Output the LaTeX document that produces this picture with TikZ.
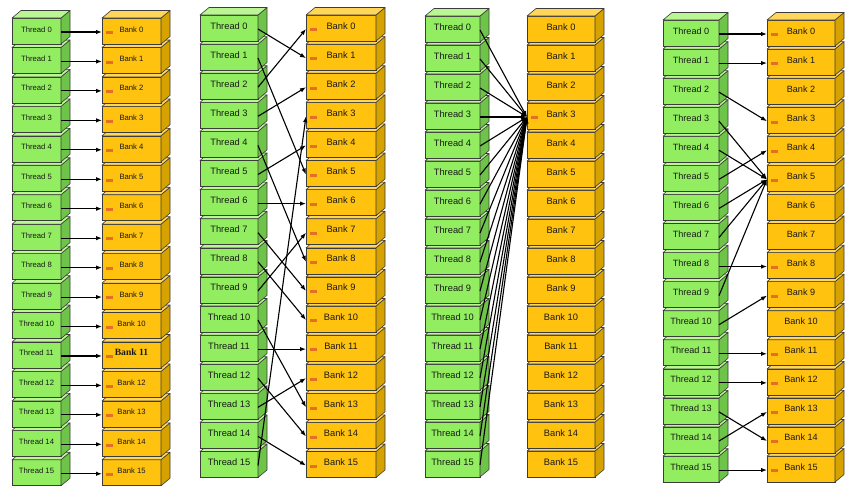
\documentclass[tikz,border=0pt]{standalone}
\usepackage{fontspec}
\setmainfont{Liberation Sans}
\newfontfamily\bankserif{Liberation Serif}
\usetikzlibrary{arrows.meta}

\definecolor{threadfront}{RGB}{146,238,96}
\definecolor{threadtop}{RGB}{186,246,146}
\definecolor{threadside}{RGB}{110,196,72}
\definecolor{bankfront}{RGB}{255,194,14}
\definecolor{banktop}{RGB}{255,214,90}
\definecolor{bankside}{RGB}{214,162,0}
\definecolor{boxline}{RGB}{60,60,60}
\definecolor{markorange}{RGB}{230,110,36}

\tikzset{
  box/.style={draw=boxline, line width=0.6pt, inner sep=0pt, outer sep=0pt,
    minimum height=26pt, text height=6pt, text depth=4pt, text=black!90},
  threadbox/.style={box, fill=threadfront},
  bankbox/.style={box, fill=bankfront},
  face/.style={draw=boxline, line width=0.6pt, line join=round},
  conn/.style={line width=1.1pt, -{Latex[length=6pt,width=4.5pt]}},
  portmark/.style={fill=markorange},
}

% label of a bank; one bank in the first panel is set in another font
\newcommand{\banktext}[2]{\ifnum#1=1 \ifnum#2=11 {\bankserif\bfseries\fontsize{9.6}{9.6}\selectfont Bank 11}\else Bank #2\fi\else Bank #2\fi}

\begin{document}
\begin{tikzpicture}[x=1pt,y=-1pt]
\useasboundingbox (0,0) rectangle (858,493);

% the four thread/bank stacks, drawn bottom up
\foreach \p/\tx/\tw/\bx/\bw/\ty/\gap/\fs in {1/12/49/102/59/18/29.45/7.7,
    2/200/58/306/70/15/29.1/9.3, 3/425/55/527/68/16/29/9.3, 4/663/56/767/68/20/29.07/9.1}{
  \foreach \i in {15,...,0}{
    \node[threadbox, minimum width=\tw pt, font=\fontsize{\fs}{\fs}\selectfont]
      (p\p t\i) at (\tx+\tw/2, \ty+\i*\gap+13) {Thread \i};
    \draw[face, fill=threadside] (p\p t\i.north east) -- ++(9,-7.5)
      -- ([shift={(9,-7.5)}]p\p t\i.south east) -- (p\p t\i.south east) -- cycle;
    \draw[face, fill=threadtop] (p\p t\i.north west) -- ++(9,-7.5)
      -- ([shift={(9,-7.5)}]p\p t\i.north east) -- (p\p t\i.north east) -- cycle;
    \node[bankbox, minimum width=\bw pt, font=\fontsize{\fs}{\fs}\selectfont]
      (p\p b\i) at (\bx+\bw/2, \ty+\i*\gap+13) {\banktext{\p}{\i}};
    \draw[face, fill=bankside] (p\p b\i.north east) -- ++(9,-7.5)
      -- ([shift={(9,-7.5)}]p\p b\i.south east) -- (p\p b\i.south east) -- cycle;
    \draw[face, fill=banktop] (p\p b\i.north west) -- ++(9,-7.5)
      -- ([shift={(9,-7.5)}]p\p b\i.north east) -- (p\p b\i.north east) -- cycle;
  }
}

% panel 1: linear addressing
\foreach \i in {0,...,15}{
  \fill[portmark] ([xshift=4pt,yshift=-0.3pt]p1b\i.west) rectangle ++(7,3);
  \draw[conn] ([yshift=-1pt]p1t\i.east) -- ([yshift=-1pt]p1b\i.west);
}

% panel 2: permutation
\foreach \a/\b in {0/1,1/5,2/0,3/2,4/8,5/4,6/6,7/9,8/10,9/7,10/13,11/11,12/14,13/12,14/15,15/3}{
  \fill[portmark] ([xshift=4pt,yshift=-0.3pt]p2b\b.west) rectangle ++(7,3);
  \draw[conn] ([yshift=-1pt]p2t\a.east) -- ([yshift=-1pt]p2b\b.west);
}

% panel 3: every thread on one bank
\fill[portmark] ([xshift=4pt,yshift=-0.3pt]p3b3.west) rectangle ++(7,3);
\foreach \a in {0,...,15}{
  \draw[conn] ([yshift=-1pt]p3t\a.east) -- ([yshift=-1pt]p3b3.west);
}

% panel 4: several threads on bank 5
\foreach \a/\b in {0/0,1/1,2/3,3/5,4/5,5/4,6/5,7/5,8/8,9/5,10/9,11/11,12/12,13/14,14/13,15/15}{
  \fill[portmark] ([xshift=4pt,yshift=-0.3pt]p4b\b.west) rectangle ++(7,3);
  \draw[conn] ([yshift=-1pt]p4t\a.east) -- ([yshift=-1pt]p4b\b.west);
}
\end{tikzpicture}
\end{document}
